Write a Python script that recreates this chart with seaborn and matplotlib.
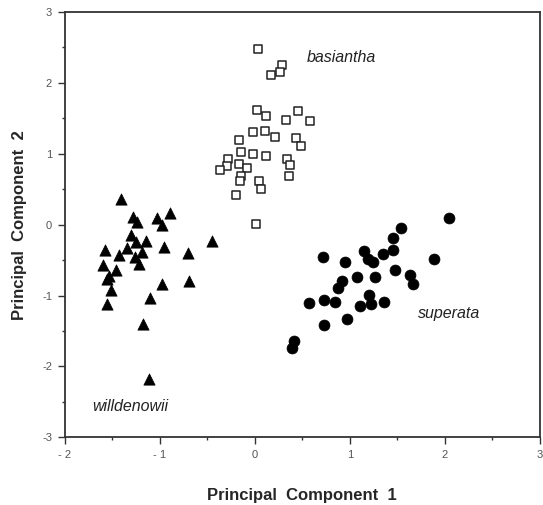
import matplotlib
matplotlib.use("Agg")
import matplotlib.pyplot as plt
import seaborn as sns
import pandas as pd
from matplotlib.ticker import MultipleLocator

# basiantha (open squares)
bas_x = [0.03, 0.29, 0.27, 0.17, 0.02, 0.12, 0.33, 0.45, 0.58, -0.02, 0.11, 0.21, 0.43, 0.49,
         -0.17, -0.14, -0.02, 0.12, -0.28, 0.34, -0.29, -0.17, -0.08, -0.36, 0.37, -0.14, -0.15,
         0.05, 0.07, 0.36, -0.20, 0.01]
bas_y = [2.48, 2.25, 2.15, 2.11, 1.62, 1.53, 1.48, 1.60, 1.46, 1.31, 1.32, 1.24, 1.22, 1.11,
         1.19, 1.02, 1.00, 0.97, 0.93, 0.93, 0.83, 0.85, 0.80, 0.77, 0.84, 0.68, 0.62,
         0.61, 0.50, 0.68, 0.42, 0.01]

# willdenowii (filled triangles)
wil_x = [-1.41, -1.28, -1.24, -1.03, -0.89, -0.98, -1.30, -1.25, -1.14, -1.34, -1.57, -1.43,
         -1.18, -1.26, -1.22, -0.95, -0.70, -0.45, -1.60, -1.46, -1.53, -1.55, -1.51, -1.55,
         -0.97, -0.69, -1.10, -1.17, -1.11]
wil_y = [0.36, 0.11, 0.04, 0.10, 0.17, 0.00, -0.14, -0.24, -0.23, -0.33, -0.36, -0.43,
         -0.38, -0.45, -0.56, -0.31, -0.40, -0.23, -0.57, -0.64, -0.73, -0.77, -0.92, -1.12,
         -0.83, -0.79, -1.03, -1.40, -2.18]

# superata (filled circles)
sup_x = [2.04, 1.54, 1.45, 1.45, 1.35, 1.15, 1.19, 1.24, 0.72, 0.95, 1.88, 1.48, 1.63, 1.66,
         1.08, 1.26, 0.92, 0.88, 0.57, 0.73, 0.84, 1.20, 1.22, 1.11, 1.36, 0.73, 0.97, 0.41, 0.39]
sup_y = [0.10, -0.04, -0.19, -0.36, -0.41, -0.37, -0.48, -0.53, -0.46, -0.52, -0.48, -0.64,
         -0.71, -0.84, -0.74, -0.74, -0.80, -0.90, -1.11, -1.06, -1.09, -0.99, -1.12, -1.15,
         -1.09, -1.42, -1.33, -1.64, -1.74]

species = ["basiantha", "superata", "willdenowii"]
label_x = [0.55, 1.72, -1.71]
label_y = [2.36, -1.25, -2.56]

x_ticks = [-2, -1, 0, 1, 2, 3]
x_ticklabels = ["- 2", "- 1", "0", "1", "2", "3"]
y_ticks = [-3, -2, -1, 0, 1, 2, 3]
y_ticklabels = ["-3", "-2", "-1", "0", "1", "2", "3"]

sns.set_style("white")
plt.rcParams["font.family"] = ["Liberation Sans", "DejaVu Sans"]

fig = plt.figure(figsize=(5.43, 5.05), dpi=100)
ax = fig.add_axes([0.1188, 0.134, 0.9945 - 0.1188, 0.9762 - 0.134])

df_b = pd.DataFrame({"x": bas_x, "y": bas_y})
df_w = pd.DataFrame({"x": wil_x, "y": wil_y})
df_s = pd.DataFrame({"x": sup_x, "y": sup_y})

sns.scatterplot(data=df_b, x="x", y="y", ax=ax, marker="s", s=34,
                facecolor="white", edgecolor="#222222", linewidth=1.1, zorder=3)
sns.scatterplot(data=df_w, x="x", y="y", ax=ax, marker="^", s=66,
                color="black", edgecolor="black", linewidth=0.5, zorder=3)
sns.scatterplot(data=df_s, x="x", y="y", ax=ax, marker="o", s=62,
                color="black", edgecolor="black", linewidth=0.5, zorder=3)

for name, lx, ly in zip(species, label_x, label_y):
    ax.text(lx, ly, name, style="italic", fontsize=11.5, color="#222222",
            ha="left", va="center")

ax.set_xlim(-2, 3)
ax.set_ylim(-3, 3)
ax.set_xticks(x_ticks)
ax.set_xticklabels(x_ticklabels)
ax.set_yticks(y_ticks)
ax.set_yticklabels(y_ticklabels)
ax.xaxis.set_minor_locator(MultipleLocator(0.5))
ax.yaxis.set_minor_locator(MultipleLocator(0.5))
ax.tick_params(which="major", direction="out", length=5, width=1.0, color="#333333",
               labelsize=8, labelcolor="#555555", bottom=True, left=True, pad=4)
ax.tick_params(which="minor", direction="out", length=2.5, width=1.0, color="#333333",
               bottom=True, left=True)

for sp in ax.spines.values():
    sp.set_visible(True)
    sp.set_color("#333333")
    sp.set_linewidth(1.3)

ax.set_xlabel("Principal  Component  1", fontsize=12, fontweight="bold", labelpad=20)
ax.set_ylabel("Principal  Component  2", fontsize=12, fontweight="bold", labelpad=11)

fig.savefig("out.png", dpi=100)
